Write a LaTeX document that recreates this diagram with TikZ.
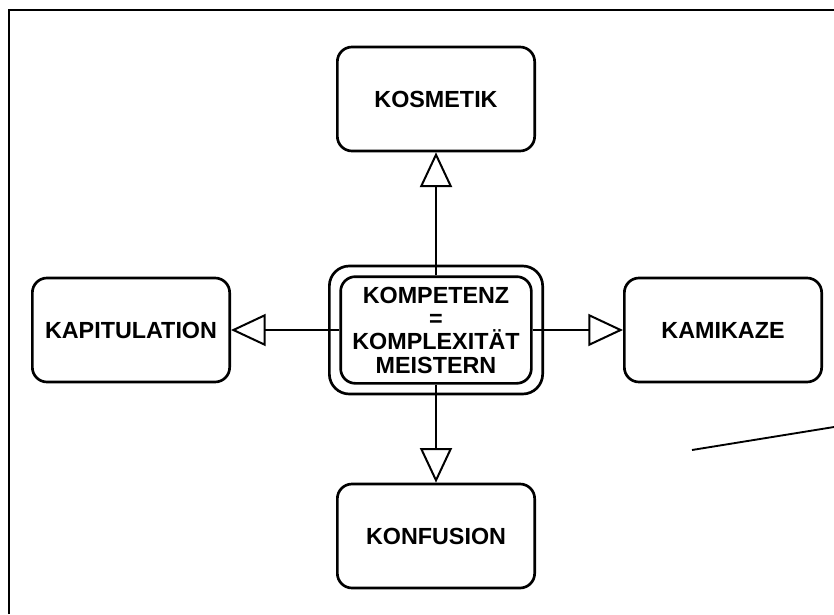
\documentclass[tikz,border=0pt]{standalone}
\usepackage{fontspec}
\setmainfont{Liberation Sans}
\usetikzlibrary{arrows.meta}
\tikzstyle{field} = [draw=black, line width=2pt,
                     rectangle, rounded corners=11pt,
                     minimum width=148pt, minimum height=78pt,
                     font=\bfseries\fontsize{17.5}{17.5}\selectfont]
\tikzstyle{core} = [field, minimum width=143pt, minimum height=80pt,
                    align=center, inner sep=2pt]
\tikzstyle{shell} = [field, rounded corners=15pt,
                     minimum width=160pt, minimum height=96pt]
\tikzstyle{link} = [line width=1.5pt,
                    -{Triangle[open, length=26pt, width=24pt, line width=1.5pt]}]

\begin{document}
\begin{tikzpicture}[x=0.75pt, y=-0.75pt]%
  \useasboundingbox (0,0) rectangle (834,614);
  % scanned frame, only top and left edge
  \draw[line width=2.2pt] (9,614) -- (9,10) -- (834,10);
  \draw[line width=1.4pt] (692,450) -- (834,427);

  \node[shell] (shell) at (436,330) {};
  \node[core] (core) at (436,330)
    {KOMPETENZ\\=\\KOMPLEXITÄT\\MEISTERN};

  \node[field] (kosmetik) at (436,99) {KOSMETIK};
  \node[field] (kapitulation) at (131,330) {KAPITULATION};
  \node[field] (kamikaze) at (723,330) {KAMIKAZE};
  \node[field] (konfusion) at (436,536) {KONFUSION};

  \draw[link] (core.north) -- (kosmetik.south);
  \draw[link] (core.west) -- (kapitulation.east);
  \draw[link] (core.east) -- (kamikaze.west);
  \draw[link] (core.south) -- (konfusion.north);
\end{tikzpicture}
\end{document}
